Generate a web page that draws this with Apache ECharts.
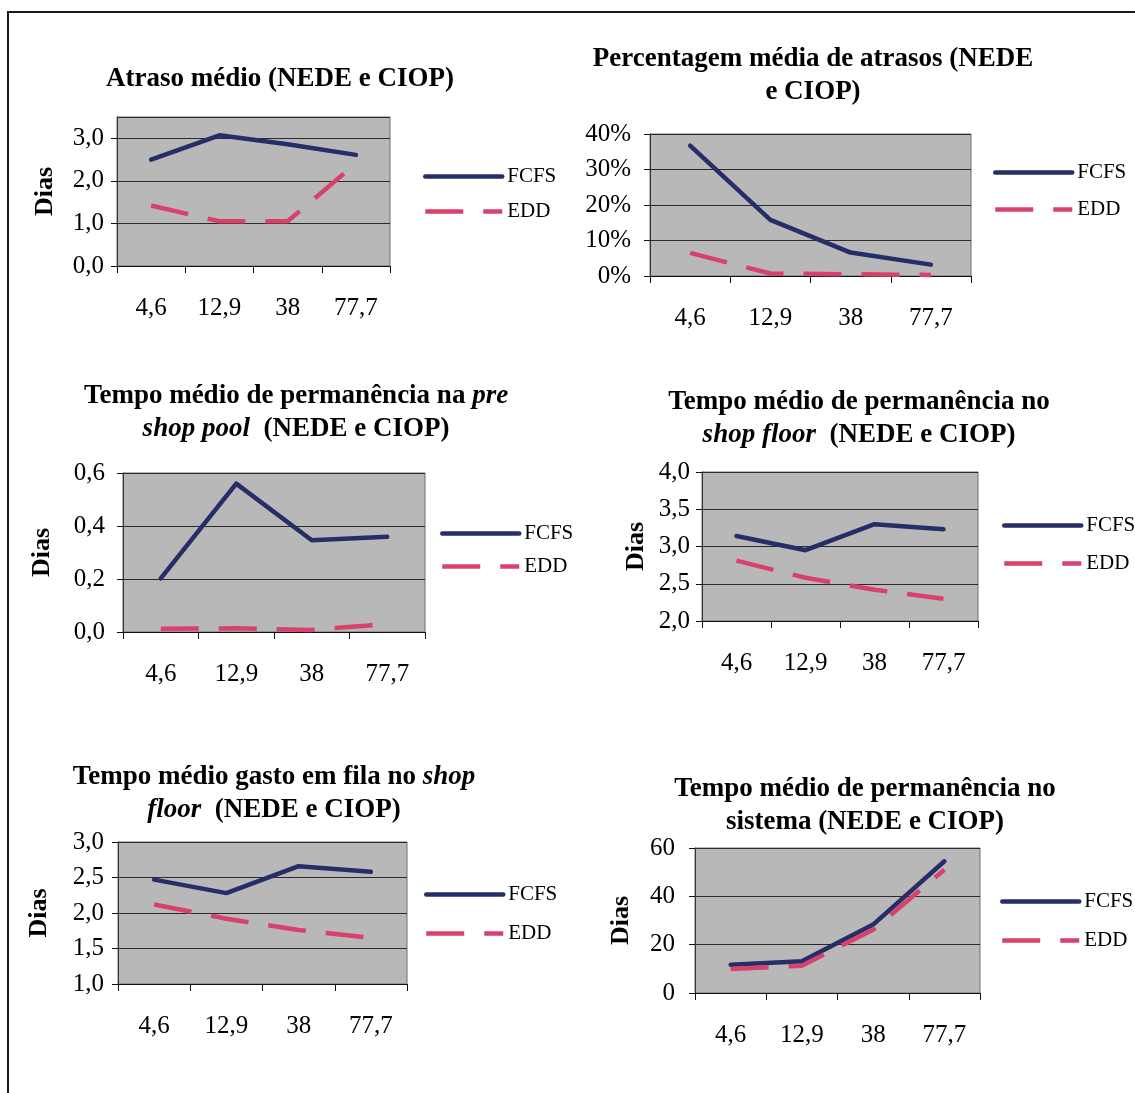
<!DOCTYPE html>
<html><head><meta charset="utf-8">
<script src="https://cdn.jsdelivr.net/npm/echarts@6/dist/echarts.min.js"></script>
<style>
html,body{margin:0;padding:0;background:#fff;}
#wrap{position:relative;width:1135px;height:1093px;overflow:hidden;}
#c{width:1135px;height:1093px;}
#frame{position:absolute;left:7px;top:11px;right:-10px;bottom:-10px;border-left:2px solid #1a1a1a;border-top:2px solid #1a1a1a;pointer-events:none;}
</style>
</head><body>
<div id="wrap"><div id="c"></div><div id="frame"></div></div>
<script>
// ---- data ----
const categories = ['4,6', '12,9', '38', '77,7'];
const seriesNames = ['FCFS', 'EDD'];

const atrasoFCFS = [2.50, 3.07, 2.86, 2.61];
const atrasoEDD  = [1.42, 1.05, 1.05, 2.41];

const percFCFS = [36.7, 15.8, 6.6, 3.2];
const percEDD  = [6.5, 0.7, 0.5, 0.3];

const poolFCFS = [0.202, 0.56, 0.346, 0.359];
const poolEDD  = [0.012, 0.014, 0.008, 0.030];

const floorFCFS = [3.14, 2.95, 3.30, 3.23];
const floorEDD  = [2.81, 2.58, 2.42, 2.30];

const filaFCFS = [2.47, 2.28, 2.66, 2.58];
const filaEDD  = [2.12, 1.92, 1.76, 1.65];

const sistemaFCFS = [11.7, 13.1, 28.3, 54.5];
const sistemaEDD  = [9.9, 11.3, 26.2, 51.0];

// y-axis scales: [min, max, interval]
const atrasoScale  = [0, 3.5, 1];
const percScale    = [0, 40, 10];
const poolScale    = [0, 0.6, 0.2];
const floorScale   = [2, 4, 0.5];
const filaScale    = [1, 3, 0.5];
const sistemaScale = [0, 60, 20];

const titles = [
  '{b|Atraso médio (NEDE e CIOP)}',
  '{b|Percentagem média de atrasos (NEDE}\n{b|e CIOP)}',
  '{b|Tempo médio de permanência na }{i|pre}\n{i|shop pool}{b|  (NEDE e CIOP)}',
  '{b|Tempo médio de permanência no}\n{i|shop floor}{b|  (NEDE e CIOP)}',
  '{b|Tempo médio gasto em fila no }{i|shop}\n{i|floor}{b|  (NEDE e CIOP)}',
  '{b|Tempo médio de permanência no}\n{b|sistema (NEDE e CIOP)}'
];
const yName = 'Dias';

// ---- formatting / layout ----
const dec1 = v => v.toFixed(1).replace('.', ',');
const pct = v => Math.round(v) + '%';
const intf = v => String(Math.round(v));

const FONT = '"Liberation Serif", "Times New Roman", serif';
const C_FCFS = '#252e66';
const C_EDD = '#d8416c';
const TFS = 27, TLH = 33;

const panels = [
  {data:[atrasoFCFS, atrasoEDD], scale:atrasoScale, fmt:dec1, hideMax:true, name:true,
   grid:{left:117, top:117, width:273, height:149}, nameGap:59, lblMargin:13,
   title:{x:280, y:63}, legend:{x:423, y:166, gap:14}},
  {data:[percFCFS, percEDD], scale:percScale, fmt:pct, name:false,
   grid:{left:650, top:134, width:321, height:142}, nameGap:0, lblMargin:19,
   title:{x:813, y:43}, legend:{x:993, y:162, gap:16}},
  {data:[poolFCFS, poolEDD], scale:poolScale, fmt:dec1, name:true,
   grid:{left:123, top:473, width:302, height:159}, nameGap:68, lblMargin:18,
   title:{x:296, y:380}, legend:{x:440, y:523, gap:12}},
  {data:[floorFCFS, floorEDD], scale:floorScale, fmt:dec1, name:true,
   grid:{left:702, top:472, width:276, height:149}, nameGap:53, lblMargin:12,
   title:{x:859, y:386}, legend:{x:1002, y:515, gap:17}},
  {data:[filaFCFS, filaEDD], scale:filaScale, fmt:dec1, name:true,
   grid:{left:118, top:842, width:289, height:142}, nameGap:66, lblMargin:14,
   title:{x:274, y:761}, legend:{x:424, y:884, gap:18}},
  {data:[sistemaFCFS, sistemaEDD], scale:sistemaScale, fmt:intf, name:true,
   grid:{left:695, top:848, width:285, height:145}, nameGap:61, lblMargin:20,
   title:{x:865, y:773}, legend:{x:1000, y:891, gap:18}}
];

const option = {
  animation: false,
  backgroundColor: '#ffffff',
  title: [], legend: [], grid: [], xAxis: [], yAxis: [], series: []
};

panels.forEach((p, i) => {
  option.title.push({
    text: titles[i], left: p.title.x, top: p.title.y, textAlign: 'center', padding: 0,
    textStyle: {
      fontFamily: FONT, fontSize: TFS, fontWeight: 'bold', color: '#000', lineHeight: TLH,
      rich: {
        b: {fontFamily: FONT, fontSize: TFS, fontWeight: 'bold', color: '#000', lineHeight: TLH},
        i: {fontFamily: FONT, fontSize: TFS, fontWeight: 'bold', fontStyle: 'italic', color: '#000', lineHeight: TLH}
      }
    }
  });
  option.grid.push(Object.assign({
    show: true, backgroundColor: '#b8b8b8', borderColor: '#6f6f6f', borderWidth: 1,
    containLabel: false, outerBoundsMode: 'none'
  }, p.grid));
  option.xAxis.push({
    type: 'category', gridIndex: i, data: categories, boundaryGap: true,
    axisLine: {show: true, lineStyle: {color: '#111', width: 1}},
    axisTick: {show: true, alignWithLabel: false, length: 7, lineStyle: {color: '#111'}},
    axisLabel: {color: '#000', fontFamily: FONT, fontSize: 25, margin: 30},
    splitLine: {show: false}
  });
  option.yAxis.push({
    type: 'value', gridIndex: i, min: p.scale[0], max: p.scale[1], interval: p.scale[2],
    name: p.name ? yName : '', nameLocation: 'middle', nameGap: p.nameGap, nameRotate: 90,
    nameTextStyle: {fontFamily: FONT, fontSize: 26, fontWeight: 'bold', color: '#000'},
    axisLine: {show: true, lineStyle: {color: '#333', width: 1}},
    axisTick: {show: true, length: 6, lineStyle: {color: '#111'}},
    axisLabel: {color: '#000', fontFamily: FONT, fontSize: 25, margin: p.lblMargin,
      formatter: p.fmt, showMaxLabel: !p.hideMax},
    splitLine: {show: true, lineStyle: {color: '#2a2a2a', width: 1}}
  });
  option.legend.push({
    orient: 'vertical', left: p.legend.x, top: p.legend.y, padding: 0,
    itemGap: p.legend.gap, itemWidth: 77, itemHeight: 21,
    data: seriesNames, selectedMode: false,
    lineStyle: {width: 4.5, type: 'inherit'},
    itemStyle: {color: 'rgba(0,0,0,0)', borderWidth: 0, opacity: 0},
    textStyle: {fontFamily: FONT, fontSize: 21, color: '#000'}
  });
  option.series.push({
    name: seriesNames[0], type: 'line', xAxisIndex: i, yAxisIndex: i,
    data: p.data[0], symbol: 'none', showSymbol: false, smooth: false,
    lineStyle: {color: C_FCFS, width: 4.5, cap: 'round', join: 'round'},
    itemStyle: {color: C_FCFS}
  });
  option.series.push({
    name: seriesNames[1], type: 'line', xAxisIndex: i, yAxisIndex: i,
    data: p.data[1], symbol: 'none', showSymbol: false, smooth: false,
    lineStyle: {color: C_EDD, width: 4.5, type: [38, 20], cap: 'butt', join: 'round'},
    itemStyle: {color: C_EDD}
  });
});

const chart = echarts.init(document.getElementById('c'), null, {renderer: 'canvas'});
chart.setOption(option);
</script>
</body></html>
